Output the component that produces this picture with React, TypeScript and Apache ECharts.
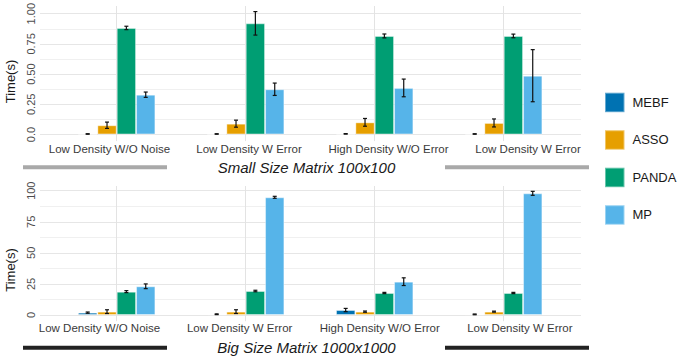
import React, { useEffect, useRef } from "react";
import * as echarts from "echarts";

const categories = ["Low Density W/O Noise", "Low Density W Error", "High Density W/O Error", "Low Density W Error"];
const seriesNames = ["MEBF", "ASSO", "PANDA", "MP"];
const seriesColors = ["#0072B2", "#E69F00", "#009E73", "#56B4E9"];

// Small size matrix 100x100 (seconds)
const smallMEBF = [0.004, 0.004, 0.005, 0.004];
const smallASSO = [0.076, 0.089, 0.1, 0.095];
const smallPANDA = [0.879, 0.917, 0.813, 0.813];
const smallMP = [0.328, 0.373, 0.384, 0.485];
const smallErrMEBF = [0.002, 0.002, 0.002, 0.002];
const smallErrASSO = [0.026, 0.029, 0.032, 0.033];
const smallErrPANDA = [0.014, 0.097, 0.016, 0.015];
const smallErrMP = [0.022, 0.051, 0.073, 0.215];

// Big size matrix 1000x1000 (seconds)
const bigMEBF = [1.9, 0.6, 4.0, 0.5];
const bigASSO = [2.7, 2.7, 2.7, 2.7];
const bigPANDA = [18.8, 19.3, 17.7, 17.7];
const bigMP = [23.1, 94.7, 26.8, 97.9];
const bigErrMEBF = [0.5, 0.3, 1.3, 0.3];
const bigErrASSO = [1.5, 1.5, 0.5, 0.4];
const bigErrPANDA = [0.8, 0.6, 0.5, 0.5];
const bigErrMP = [1.9, 0.8, 3.1, 1.6];

const smallTicks = ["0.0", "0.25", "0.50", "0.75", "1.00"];
const bigTicks = ["0", "25", "50", "75", "100"];

const FONT = "Liberation Sans";

export default function App() {
  const ref = useRef<HTMLDivElement>(null);
  useEffect(() => {
    if (!ref.current) return;
    const chart = echarts.init(ref.current, null, { renderer: "svg" });

    const smallVals = [smallMEBF, smallASSO, smallPANDA, smallMP];
    const smallErrs = [smallErrMEBF, smallErrASSO, smallErrPANDA, smallErrMP];
    const bigVals = [bigMEBF, bigASSO, bigPANDA, bigMP];
    const bigErrs = [bigErrMEBF, bigErrASSO, bigErrPANDA, bigErrMP];

    const errData = (vals: number[][], errs: number[][]) => {
      const out: number[][] = [];
      vals.forEach((arr, s) =>
        arr.forEach((v, c) => out.push([c, s, Math.max(0, v - errs[s][c]), v + errs[s][c]]))
      );
      return out;
    };

    const renderErr = (params: any, api: any) => {
      const c = api.value(0);
      const s = api.value(1);
      const lo = api.coord([c, api.value(2)]);
      const hi = api.coord([c, api.value(3)]);
      const band = api.size([1, 0])[0];
      const bw = band * 0.15;
      const x = lo[0] + (s - 1.5) * bw;
      const cap = 2;
      const style = { stroke: "#111", lineWidth: 1.2 };
      return {
        type: "group",
        children: [
          { type: "line", shape: { x1: x, y1: lo[1], x2: x, y2: hi[1] }, style },
          { type: "line", shape: { x1: x - cap, y1: lo[1], x2: x + cap, y2: lo[1] }, style },
          { type: "line", shape: { x1: x - cap, y1: hi[1], x2: x + cap, y2: hi[1] }, style },
        ],
      };
    };

    const gridLine = { lineStyle: { color: "#e6e6e6", width: 1 } };
    const minorLine = { lineStyle: { color: "#f0f0f0", width: 1 } };
    const vlineCats = ["0", "1", "2", "3", "4", "5", "6", "7", "8"];

    const labelAxis = (gridIndex: number, max: number, interval: number, ticks: string[]) => ({
      type: "value",
      gridIndex,
      min: 0,
      max,
      interval,
      axisLine: { show: false },
      axisTick: { show: false },
      axisLabel: {
        rotate: 90,
        margin: 4,
        color: "#4d4d4d",
        fontSize: 11,
        fontFamily: FONT,
        formatter: (v: number) => ticks[Math.round(v / interval)] ?? "",
      },
      splitLine: { show: true, ...gridLine },
      minorTick: { show: false, splitNumber: 2 },
      minorSplitLine: { show: true, ...minorLine },
    });

    const barSeries = (vals: number[][], xi: number, yi: number) =>
      vals.map((arr, s) => ({
        name: seriesNames[s],
        type: "bar",
        xAxisIndex: xi,
        yAxisIndex: yi,
        data: arr,
        barWidth: "15%",
        barGap: "0%",
        itemStyle: { color: seriesColors[s], borderColor: "rgba(255,255,255,0.4)", borderWidth: 1 },
      }));

    const catAxis = (gridIndex: number) => ({
      type: "category",
      gridIndex,
      data: categories,
      axisLine: { show: false },
      axisTick: { show: false },
      splitLine: { show: false },
      axisLabel: { show: false },
    });

    const catLabelAxis = (gridIndex: number, margin: number) => ({
      type: "category",
      gridIndex,
      data: categories,
      axisLine: { show: false },
      axisTick: { show: false },
      splitLine: { show: false },
      axisLabel: { margin, color: "#3a3a3a", fontSize: 11.5, fontFamily: FONT, interval: 0 },
    });

    const vAxis = (gridIndex: number) => ({
      type: "category",
      gridIndex,
      data: vlineCats,
      boundaryGap: false,
      position: "top",
      axisLine: { show: false },
      axisTick: { show: false },
      axisLabel: { show: false },
      splitLine: { show: true, interval: (i: number) => i % 2 === 1, lineStyle: { color: "#e3e3e3", width: 1 } },
    });

    const hiddenY = (gridIndex: number, min: number, max: number) => ({
      type: "value",
      gridIndex,
      show: false,
      min,
      max,
      splitLine: { show: false },
    });

    const option: any = {
      animation: false,
      backgroundColor: "#ffffff",
      textStyle: { fontFamily: FONT },
      grid: [
        { left: 40, width: 541, top: 13.3, height: 121.2 },
        { left: 52.2, width: 516, top: 6, height: 135.1 },
        { left: 40, width: 541, top: 190.7, height: 124.3 },
        { left: 52.2, width: 516, top: 186, height: 135.2 },
        { left: 39.75, width: 558, top: 6, height: 135.1 },
        { left: 29.5, width: 560.4, top: 186, height: 135.2 },
      ],
      xAxis: [
        { type: "value", gridIndex: 0, show: false, min: 0, max: 1 },
        catAxis(1),
        vAxis(1),
        { type: "value", gridIndex: 2, show: false, min: 0, max: 1 },
        catAxis(3),
        vAxis(3),
        catLabelAxis(4, 2),
        catLabelAxis(5, 1),
      ],
      yAxis: [
        labelAxis(0, 1, 0.25, smallTicks),
        hiddenY(1, -0.0548, 1.06),
        labelAxis(2, 100, 25, bigTicks),
        hiddenY(3, -5.0, 103.8),
        hiddenY(4, 0, 1),
        hiddenY(5, 0, 1),
      ],
      legend: {
        orient: "vertical",
        left: 604,
        top: 91.7,
        padding: 0,
        itemWidth: 19.5,
        itemHeight: 19.5,
        itemGap: 16,
        icon: "rect",
        data: seriesNames,
        textStyle: { fontSize: 13, color: "#1a1a1a", fontFamily: FONT, padding: [0, 0, 0, 3] },
      },
      series: [
        ...barSeries(smallVals, 1, 1),
        {
          type: "custom",
          name: "errSmall",
          xAxisIndex: 1,
          yAxisIndex: 1,
          data: errData(smallVals, smallErrs),
          encode: { x: 0, y: [2, 3] },
          renderItem: renderErr,
          z: 5,
        },
        ...barSeries(bigVals, 4, 3),
        {
          type: "custom",
          name: "errBig",
          xAxisIndex: 4,
          yAxisIndex: 3,
          data: errData(bigVals, bigErrs),
          encode: { x: 0, y: [2, 3] },
          renderItem: renderErr,
          z: 5,
        },
      ],
      graphic: [
        { type: "text", x: 10, y: 81.5, rotation: Math.PI / 2, style: { text: "Time(s)", fontSize: 13, fill: "#1a1a1a", fontFamily: FONT, textAlign: "center", textVerticalAlign: "middle" } },
        { type: "text", x: 10, y: 270, rotation: Math.PI / 2, style: { text: "Time(s)", fontSize: 13, fill: "#1a1a1a", fontFamily: FONT, textAlign: "center", textVerticalAlign: "middle" } },
        { type: "text", x: 306.5, y: 167.5, style: { text: "Small Size Matrix 100x100", fontSize: 15, fontStyle: "italic", fill: "#1a1a1a", fontFamily: FONT, textAlign: "center", textVerticalAlign: "middle" } },
        { type: "text", x: 306.5, y: 347, style: { text: "Big Size Matrix 1000x1000", fontSize: 15, fontStyle: "italic", fill: "#1a1a1a", fontFamily: FONT, textAlign: "center", textVerticalAlign: "middle" } },
        { type: "line", shape: { x1: 23, y1: 167.3, x2: 167, y2: 167.3 }, style: { stroke: "#a9a9a9", lineWidth: 4 } },
        { type: "line", shape: { x1: 445, y1: 167.3, x2: 589, y2: 167.3 }, style: { stroke: "#a9a9a9", lineWidth: 4 } },
        { type: "line", shape: { x1: 23, y1: 347.8, x2: 167, y2: 347.8 }, style: { stroke: "#222222", lineWidth: 4 } },
        { type: "line", shape: { x1: 445, y1: 347.8, x2: 589, y2: 347.8 }, style: { stroke: "#222222", lineWidth: 4 } },
      ],
    };
    chart.setOption(option);
    return () => chart.dispose();
  }, []);
  return <div ref={ref} style={{ position: "fixed", left: 0, top: 0, width: 677, height: 357 }} />;
}
